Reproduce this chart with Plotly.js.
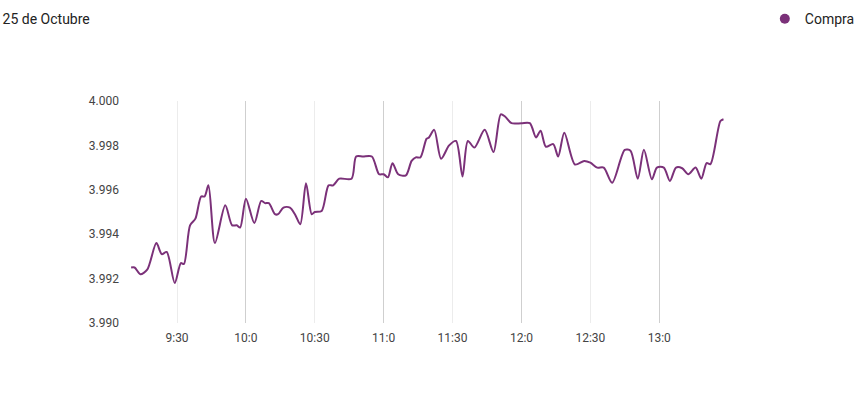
<!DOCTYPE html>
<html>
<head>
<meta charset="utf-8">
<script src="https://cdn.plot.ly/plotly-3.0.1.min.js"></script>
<style>html,body{margin:0;padding:0;background:#fff;}#chart{width:865px;height:399px;}</style>
</head>
<body>
<div id="chart"></div>
<script>
const chartTitle = "25 de Octubre";
const seriesName = "Compra";
const day = "2023-10-25";
const times = ["09:10:00","09:11:30","09:14:00","09:17:00","09:21:00","09:23:20","09:25:30","09:29:00","09:31:40","09:33:00","09:35:40","09:38:00","09:40:30","09:42:00","09:43:40","09:46:30","09:51:00","09:54:00","09:56:00","09:57:30","10:00:00","10:03:40","10:06:40","10:08:20","10:10:00","10:12:40","10:14:00","10:16:20","10:19:10","10:21:20","10:23:40","10:26:10","10:28:40","10:30:00","10:33:00","10:36:00","10:38:00","10:40:40","10:46:00","10:48:00","10:51:00","10:54:50","10:58:00","11:00:00","11:01:50","11:03:50","11:06:20","11:09:40","11:12:10","11:14:00","11:16:00","11:18:40","11:19:40","11:22:00","11:25:00","11:28:30","11:31:30","11:34:20","11:36:40","11:39:30","11:44:00","11:47:50","11:51:00","11:52:50","11:55:40","12:00:00","12:03:40","12:06:20","12:08:20","12:10:40","12:13:50","12:16:00","12:18:40","12:23:20","12:27:20","12:30:00","12:33:00","12:35:50","12:39:30","12:45:00","12:47:30","12:50:40","12:53:20","12:56:50","12:59:00","13:02:00","13:04:40","13:07:20","13:10:00","13:12:40","13:15:50","13:18:20","13:20:40","13:22:20","13:26:40","13:28:00"];
const compra = [3.9925,3.9925,3.9922,3.9924,3.9936,3.9931,3.9932,3.9918,3.9927,3.99266,3.9944,3.9947,3.9957,3.9957,3.9962,3.9936,3.9953,3.9944,3.9944,3.9943,3.9956,3.9945,3.9955,3.9954,3.9954,3.9949,3.9949,3.9952,3.9952,3.9949,3.99445,3.9963,3.9949,3.9950,3.99505,3.9962,3.9962,3.9965,3.9965,3.9975,3.9975,3.9975,3.9967,3.9967,3.99656,3.9972,3.9967,3.99665,3.9973,3.99746,3.99746,3.9983,3.99835,3.9987,3.9974,3.9980,3.9982,3.9966,3.9982,3.9979,3.9987,3.9977,3.9994,3.9993,3.9990,3.9990,3.9990,3.99836,3.99866,3.99794,3.99806,3.9975,3.99857,3.99714,3.9973,3.99722,3.9970,3.9970,3.99632,3.9978,3.99776,3.9965,3.9978,3.99647,3.9970,3.9970,3.9964,3.9970,3.99697,3.9967,3.9970,3.9965,3.9972,3.99716,3.9991,3.99918];
const tickTimes = ["09:30","10:00","10:30","11:00","11:30","12:00","12:30","13:00"];
const tickLabels = ["9:30","10:0","10:30","11:0","11:30","12:0","12:30","13:0"];
const hourTimes = ["10:00","11:00","12:00","13:00"];
const yTicks = [3.990,3.992,3.994,3.996,3.998,4.000];
const xRange = ["09:07:20","13:30:50"];

const toDate = t => day + " " + (t.length === 5 ? t + ":00" : t);
const x = times.map(toDate);
const lineColor = "#7b3179";

const traces = [
  {x: x, y: compra, type: "scatter", mode: "lines", name: seriesName, showlegend: false,
   line: {color: lineColor, width: 2, shape: "spline", smoothing: 0.8}, hoverinfo: "x+y"},
  {x: [null], y: [null], type: "scatter", mode: "markers", name: seriesName, showlegend: true,
   marker: {color: lineColor, size: 10, symbol: "circle"}},
  {x: [null], y: [null], xaxis: "x2", type: "scatter", mode: "markers", showlegend: false}
];

const layout = {
  width: 865, height: 399,
  margin: {l: 125, r: 135, t: 101, b: 76, pad: 0, autoexpand: false},
  paper_bgcolor: "#fff", plot_bgcolor: "#fff",
  font: {family: "Roboto, Arial, sans-serif", color: "#333"},
  title: {text: chartTitle, xref: "container", yref: "container", x: 0.003, xanchor: "left",
          y: 0.952, yanchor: "middle", font: {size: 14, color: "#222", family: "Roboto, Arial, sans-serif"}},
  showlegend: true,
  legend: {xref: "container", yref: "container", x: 0.994, xanchor: "right", y: 0.952, yanchor: "middle",
           orientation: "h", font: {size: 14, color: "#222"}, bgcolor: "rgba(0,0,0,0)"},
  xaxis: {type: "date", range: xRange.map(toDate), tickvals: tickTimes.map(toDate), ticktext: tickLabels,
          showgrid: true, gridcolor: "#ececec", gridwidth: 1, zeroline: false, showline: false,
          ticks: "", ticklabelstandoff: 6, tickfont: {size: 12, color: "#444"}, fixedrange: true},
  xaxis2: {type: "date", overlaying: "x", matches: "x", range: xRange.map(toDate), tickvals: hourTimes.map(toDate),
           showticklabels: false, showgrid: true, gridcolor: "#cfcfcf", gridwidth: 1, zeroline: false,
           showline: false, ticks: ""},
  yaxis: {range: [3.990, 4.000], tickvals: yTicks, tickformat: ".3f", showgrid: false, zeroline: false,
          showline: false, ticks: "", ticklabelstandoff: 5, tickfont: {size: 12, color: "#444"}, fixedrange: true}
};

Plotly.newPlot("chart", traces, layout, {displayModeBar: false, staticPlot: true});
</script>
</body>
</html>
